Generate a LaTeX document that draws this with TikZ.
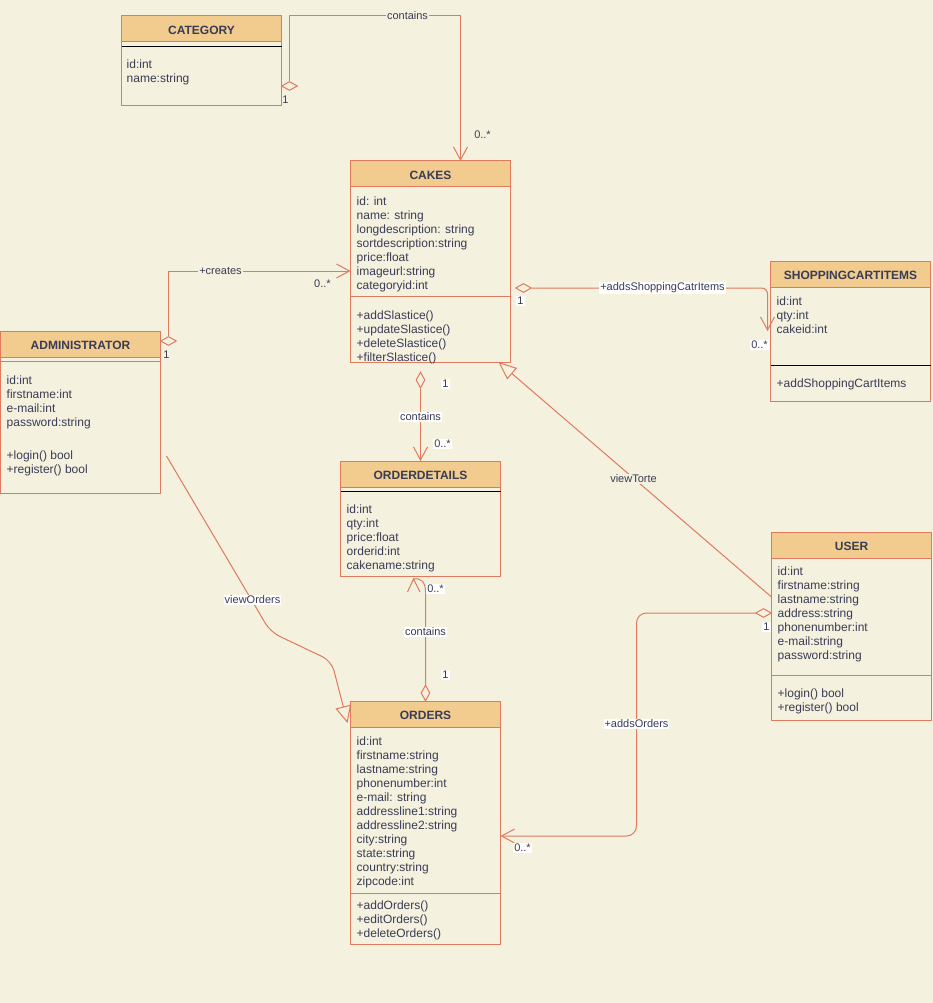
\documentclass[tikz,border=0pt]{standalone}
\usepackage{fontspec}
\setmainfont{Liberation Sans}
\usetikzlibrary{arrows.meta,calc,shapes.geometric}
\definecolor{bg}{HTML}{F4F1DE}
\definecolor{hdr}{HTML}{F2CC8F}
\definecolor{strk}{HTML}{E07A5F}
\definecolor{txt}{HTML}{393C56}
\newcommand\umlrows[4]{\foreach \t [count=\i from 0] in {#4}{\node[attr] (#1\i) at (#2,{#3+1.5+14*\i}) {\t};}}
\begin{document}
\begin{tikzpicture}[x=1pt,y=-1pt,
  box/.style={draw=strk, line width=1pt, fill=bg, anchor=north west, inner sep=0, outer sep=0},
  hdrbox/.style={draw=strk, line width=1pt, fill=hdr, anchor=north west, inner sep=0, outer sep=0, minimum height=26},
  title/.style={font=\fontsize{12}{14}\selectfont\bfseries, text=txt, yshift=-1pt},
  attr/.style={anchor=base west, inner sep=0, font=\fontsize{12}{14}\selectfont, text=txt},
  edge/.style={draw=strk, line width=1pt},
  sep/.style={draw=strk, line width=1pt},
  bsep/.style={draw=black, line width=1pt},
  barb/.tip={Straight Barb[length=13pt,width=14pt,line width=1pt]},
  lbl/.style={font=\fontsize{11}{13}\selectfont, text=txt, fill=white, inner sep=1pt},
  lblc/.style={lbl, fill=bg},
  mult/.style={font=\fontsize{11}{13}\selectfont, text=txt, inner sep=1pt},
  multw/.style={mult, fill=white},
  dmd/.style={shape=diamond, draw=strk, line width=1pt, fill=bg, inner sep=0, aspect=1}
]
\fill[bg] (0,0) rectangle (932,1003);

% CATEGORY
\node[box, minimum width=160, minimum height=90] (category) at (121,16) {};
\node[hdrbox, minimum width=160] (categoryH) at (121,16) {};
\node[title] (categoryT) at (categoryH.center) {CATEGORY};
\draw[bsep] (category.west |- 0,47) -- (category.east |- 0,47);
\umlrows{catA}{126}{67}{id:int,name:string}

% CAKES
\node[box, minimum width=160, minimum height=201] (cakes) at (350,161) {};
\node[hdrbox, minimum width=160] (cakesH) at (350,161) {};
\node[title] (cakesT) at (cakesH.center) {CAKES};
\umlrows{cakA}{356}{204}{id: int,name: string,longdescription: string,sortdescription:string,price:float,imageurl:string,categoryid:int}
\draw[sep] (cakes.west |- 0,296) -- (cakes.east |- 0,296);
\umlrows{cakM}{356}{318}{+addSlastice(),+updateSlastice(),+deleteSlastice(),+filterSlastice()}

% SHOPPINGCARTITEMS
\node[box, minimum width=160, minimum height=140] (shop) at (770,261) {};
\node[hdrbox, minimum width=160] (shopH) at (770,261) {};
\node[title] (shopT) at (shopH.center) {SHOPPINGCARTITEMS};
\umlrows{shopA}{776}{304}{id:int,qty:int,cakeid:int}
\draw[bsep] (shop.west |- 0,365) -- (shop.east |- 0,365);
\umlrows{shopM}{776}{386}{+addShoppingCartItems}

% ADMINISTRATOR
\node[box, minimum width=160, minimum height=162] (admin) at (0,331) {};
\node[hdrbox, minimum width=160] (adminH) at (0,331) {};
\node[title] (adminT) at (adminH.center) {ADMINISTRATOR};
\draw[sep] (admin.west |- 0,361) -- (admin.east |- 0,361);
\umlrows{admA}{6}{383}{id:int,firstname:int,e-mail:int,password:string}
\umlrows{admM}{6}{458}{+login() bool,+register() bool}

% ORDERDETAILS
\node[box, minimum width=160, minimum height=115] (od) at (340,461) {};
\node[hdrbox, minimum width=160] (odH) at (340,461) {};
\node[title] (odT) at (odH.center) {ORDERDETAILS};
\draw[bsep] (od.west |- 0,491) -- (od.east |- 0,491);
\umlrows{odA}{346}{512}{id:int,qty:int,price:float,orderid:int,cakename:string}

% USER
\node[box, minimum width=160, minimum height=188] (user) at (771,532) {};
\node[hdrbox, minimum width=160] (userH) at (771,532) {};
\node[title] (userT) at (userH.center) {USER};
\umlrows{usrA}{777}{574}{id:int,firstname:string,lastname:string,address:string,phonenumber:int,e-mail:string,password:string}
\draw[sep] (user.west |- 0,675) -- (user.east |- 0,675);
\umlrows{usrM}{777}{696}{+login() bool,+register() bool}

% ORDERS
\node[box, minimum width=150, minimum height=243] (orders) at (350,701) {};
\node[hdrbox, minimum width=150] (ordersH) at (350,701) {};
\node[title] (ordersT) at (ordersH.center) {ORDERS};
\umlrows{ordA}{356}{744}{id:int,firstname:string,lastname:string,phonenumber:int,e-mail: string,addressline1:string,addressline2:string,city:string,state:string,country:string,zipcode:int}
\draw[sep] (orders.west |- 0,893) -- (orders.east |- 0,893);
\umlrows{ordM}{356}{908}{+addOrders(),+editOrders(),+deleteOrders()}

% ---- connectors ----
% Category contains Cakes
\node[dmd, minimum width=16, minimum height=9] (dCat) at (289,86) {};
\draw[edge, -{barb}] (dCat.north) -- (dCat.north |- category.north) -| ($(cakes.north)+(30,0)$);
\node[lblc] (lContains1) at (407,16) {contains};
\node[mult] (mCat1) at (285,100) {1};
\node[mult] (mCat2) at (482,135) {0..*};

% Administrator creates Cakes
\node[dmd, minimum width=16, minimum height=9] (dAdm) at (168,341) {};
\draw[edge, -{barb}] (dAdm.north) |- (cakes.west |- 0,271);
\node[lblc] (lCreates) at (220,271) {+creates};
\node[mult] (mAdm1) at (166,355) {1};
\node[mult] (mAdm2) at (322,284) {0..*};

% Cakes adds ShoppingCartItems
\node[dmd, minimum width=16, minimum height=9] (dCS) at (523,288) {};
\draw[edge, rounded corners=6, -{barb}] (dCS.east) -| ($(shop.west)+(-3,0)$);
\node[lbl] (lAddsSC) at (662,288) {+addsShoppingCatrItems};
\node[multw] (mCS1) at (520,301) {1};
\node[multw] (mCS2) at (759,345) {0..*};

% Cakes contains OrderDetails
\node[dmd, minimum width=9, minimum height=16] (dCO) at (420,380) {};
\draw[edge, -{barb}] (dCO.south) -- (dCO.south |- od.north);
\node[lbl] (lContains2) at (420,417) {contains};
\node[multw] (mCO1) at (445,384) {1};
\node[multw] (mCO2) at (442,444) {0..*};

% Orders contains OrderDetails
\node[dmd, minimum width=9, minimum height=16] (dOO) at (425,693) {};
\coordinate (oTip) at (413,579);
\draw[edge] (dOO.north) -- (425,592) .. controls (425,581) and (420,578) .. (oTip);
\draw[edge] ($(oTip)+(-6,13)$) -- (oTip) -- ($(oTip)+(6.5,13)$);
\node[lbl] (lContains3) at (425,632) {contains};
\node[multw] (mOO1) at (435,589) {0..*};
\node[multw] (mOO2) at (445,675) {1};

% User viewTorte Cakes
\draw[edge, -{Triangle[open,length=18pt,width=15pt,line width=1pt]}] (user.west |- 0,597) -- ($(cakes.south east)+(-12,0)$);
\node[lblc] (lViewTorte) at (633,479) {viewTorte};

% Administrator viewOrders Orders
\draw[edge, rounded corners=10, -{Triangle[open,length=17pt,width=16pt,line width=1pt]}]
  ($(admin.south east)+(6,-37)$) -- (270,632) -- (331,661) -- ($(orders.north west)+(-3,22)$);
\node[lbl] (lViewOrders) at (252,600) {viewOrders};

% User addsOrders Orders
\node[dmd, minimum width=16, minimum height=9] (dUO) at (763,613) {};
\draw[edge, rounded corners=10, -{barb}] (dUO.west) -| (636,724) |- (orders.east |- 0,836);
\node[lbl] (lAddsOrders) at (636,724) {+addsOrders};
\node[multw] (mUO1) at (766,627) {1};
\node[multw] (mUO2) at (522,848) {0..*};
\end{tikzpicture}
\end{document}
